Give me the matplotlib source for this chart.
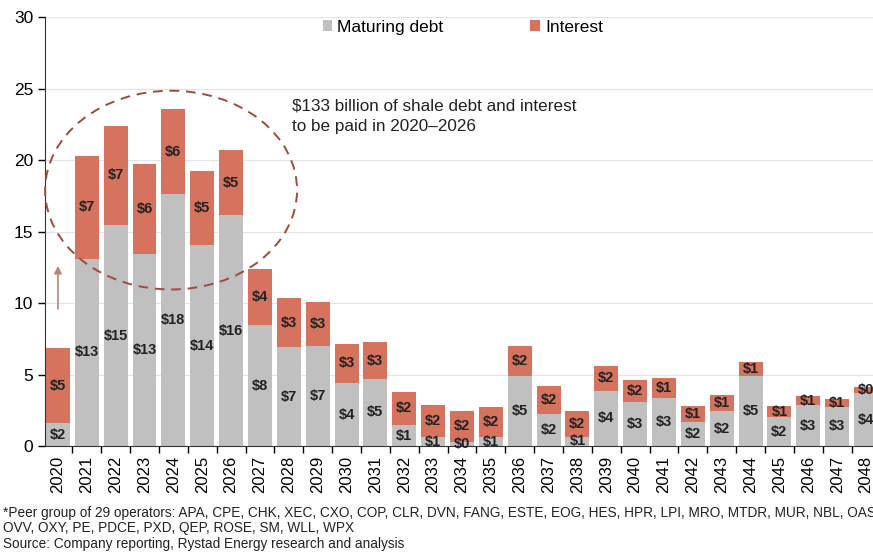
import matplotlib
matplotlib.use("Agg")
import matplotlib.pyplot as plt
from matplotlib.patches import Ellipse

plt.rcParams['font.family'] = ['Liberation Sans', 'DejaVu Sans']

years = [str(y) for y in range(2020, 2049)]
maturing_debt = [1.6, 13.1, 15.45, 13.45, 17.6, 14.05, 16.15, 8.45, 6.9, 7.0,
                 4.4, 4.7, 1.45, 0.6, 0.3, 0.6, 4.9, 2.25, 0.65, 3.85,
                 3.05, 3.35, 1.7, 2.45, 4.9, 2.0, 2.85, 2.75, 3.7]
interest = [5.25, 7.2, 6.95, 6.3, 6.0, 5.2, 4.55, 3.95, 3.45, 3.1,
            2.75, 2.55, 2.35, 2.25, 2.15, 2.15, 2.1, 1.95, 1.8, 1.75,
            1.55, 1.4, 1.1, 1.1, 0.95, 0.8, 0.65, 0.55, 0.4]
yticks = [0, 5, 10, 15, 20, 25, 30]

grey = '#c0c0c0'
red = '#d6735f'

fig = plt.figure(figsize=(8.73, 5.52), dpi=100)
ax = fig.add_axes([0.0515, 0.192, 0.957, 0.777])

x = list(range(len(years)))
ax.bar(x, maturing_debt, width=0.83, color=grey, label='Maturing debt', zorder=2)
ax.bar(x, interest, width=0.83, bottom=maturing_debt, color=red, label='Interest', zorder=2)

# value labels centred in each segment
for i in x:
    d, r = maturing_debt[i], interest[i]
    ax.text(i, d / 2, f"${d:.0f}", ha='center', va='center', fontsize=10.5,
            fontweight='bold', color='#222222', zorder=3)
    ax.text(i, d + r / 2, f"${r:.0f}", ha='center', va='center', fontsize=10.5,
            fontweight='bold', color='#222222', zorder=3, clip_on=False)

ax.set_xlim(-0.45, 28.5)
ax.set_ylim(0, 30)
ax.set_yticks(yticks)
ax.tick_params(axis='y', labelsize=12.5, length=5, direction='out', width=1)
ax.set_xticks(x)
ax.set_xticklabels(years, rotation=90, fontsize=12)
ax.set_xticks([i + 0.5 for i in x], minor=True)
ax.tick_params(axis='x', which='major', length=0, pad=7)
ax.tick_params(axis='x', which='minor', length=5, width=1, direction='out')
ax.grid(axis='y', color='#e3e3e3', linewidth=0.8, zorder=0)
for side in ['top', 'right']:
    ax.spines[side].set_visible(False)
ax.spines['left'].set_color('#333333')
ax.spines['bottom'].set_color('#333333')

ax.legend(ncol=2, loc='upper center', bbox_to_anchor=(0.5, 1.03), frameon=False,
          fontsize=12.5, handlelength=0.55, handleheight=0.55, handletextpad=0.3,
          columnspacing=5.0)

# dashed circle around 2020-2026 and the note
ax.add_patch(Ellipse((3.92, 17.9), 8.73, 13.9, fill=False, edgecolor='#9e4b3a',
                     linestyle=(0, (5, 3.5)), linewidth=1.4, clip_on=False, zorder=4))
ax.text(8.1, 24.3, "$133 billion of shale debt and interest\nto be paid in 2020\u20132026",
        fontsize=12.3, va='top', ha='left', linespacing=1.45, color='#222222')
ax.annotate('', xy=(0, 12.8), xytext=(0, 9.4),
            arrowprops=dict(arrowstyle='-|>', color='#b8847a', lw=1.2,
                            mutation_scale=11))

fig.text(0.004, 0.043, "*Peer group of 29 operators: APA, CPE, CHK, XEC, CXO, COP, CLR, DVN, FANG, ESTE, EOG, HES, HPR, LPI, MRO, MTDR, MUR, NBL, OAS,\n"
         "OVV, OXY, PE, PDCE, PXD, QEP, ROSE, SM, WLL, WPX\n"
         "Source: Company reporting, Rystad Energy research and analysis",
         fontsize=9.8, va='center', ha='left', linespacing=1.12, color='#222222')

fig.savefig('out.png', dpi=100)
